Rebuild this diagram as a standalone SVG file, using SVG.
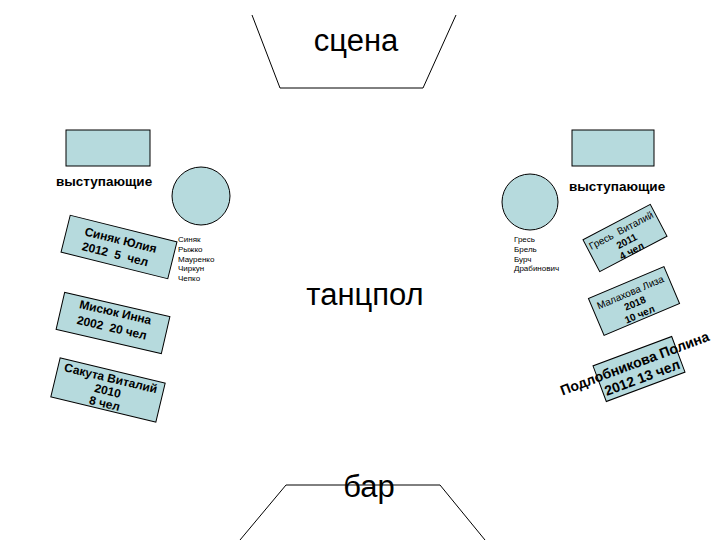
<svg xmlns="http://www.w3.org/2000/svg" width="720" height="540" viewBox="0 0 720 540">
<style>
.l{stroke:#000;stroke-width:1;fill:none}
.b{fill:#b6dadd;stroke:#000;stroke-width:1}
.big{font-family:"Liberation Sans",Arial,sans-serif;font-size:31px;text-anchor:middle}
.lbl{font-family:"Liberation Sans",Arial,sans-serif;font-size:13.5px;font-weight:bold}
.sm{font-family:"Liberation Sans",Arial,sans-serif;font-size:8px}
.t{font-family:"Liberation Sans",Arial,sans-serif;font-size:12px;font-weight:bold;text-anchor:middle}
.r{font-family:"Liberation Sans",Arial,sans-serif;font-size:10px;font-weight:bold;text-anchor:middle}
</style>
<rect width="720" height="540" fill="#fff"/>
<g id="stage"><polyline class="l" points="252,15 280,88 423,88 456,15"/><text class="big" x="356" y="51">сцена</text></g>
<g id="bar"><polyline class="l" points="240,540 286,485 440,485 485,540"/><text class="big" x="369" y="497">бар</text></g>
<g id="dance"><text class="big" x="365" y="305">танцпол</text></g>
<g id="left-perf"><rect class="b" x="66" y="130" width="84" height="36"/><text class="lbl" x="56" y="186">выступающие</text></g>
<g id="right-perf"><rect class="b" x="572" y="130" width="82" height="36"/><text class="lbl" x="569" y="191">выступающие</text></g>
<g id="left-circle"><circle class="b" cx="201" cy="196" r="29"/>
<text class="sm" x="178" y="242">Синяк</text><text class="sm" x="178" y="252">Рыжко</text><text class="sm" x="178" y="262">Мауренко</text><text class="sm" x="178" y="271">Чиркун</text><text class="sm" x="178" y="281">Чепко</text></g>
<g id="right-circle"><circle class="b" cx="530" cy="202" r="28"/>
<text class="sm" x="514" y="242">Гресь</text><text class="sm" x="514" y="252">Брель</text><text class="sm" x="514" y="262">Бурч</text><text class="sm" x="514" y="271">Драбинович</text></g>
<g id="box1" transform="translate(119,247) rotate(14)"><rect class="b" x="-55" y="-19" width="110" height="38"/><text class="t" x="0" y="-3">Синяк Юлия</text><text class="t" x="-2" y="12" xml:space="preserve">2012  5  чел</text></g>
<g id="box2" transform="translate(113,323) rotate(13)"><rect class="b" x="-54" y="-19" width="108" height="38"/><text class="t" x="0" y="-7">Мисюк Инна</text><text class="t" x="0" y="9" xml:space="preserve">2002  20 чел</text></g>
<g id="box3" transform="translate(108,390) rotate(13.5)"><rect class="b" x="-54" y="-20" width="108" height="40"/><text class="t" x="0" y="-8">Сакута Виталий</text><text class="t" x="0" y="5">2010</text><text class="t" x="0" y="18">8 чел</text></g>
<g id="boxA" transform="translate(625,238) rotate(-27.7)"><rect class="b" x="-38" y="-18" width="76" height="36"/><text class="r" x="0" y="-5" style="font-weight:normal" xml:space="preserve">Гресь  Виталий</text><text class="r" x="0" y="7">2011</text><text class="r" x="0" y="18">4 чел</text></g>
<g id="boxB" transform="translate(634,301) rotate(-23)"><rect class="b" x="-41" y="-20" width="82" height="40"/><text class="r" x="0" y="-6" style="font-weight:normal">Малахова Лиза</text><text class="r" x="0" y="6">2018</text><text class="r" x="0" y="18">10 чел</text></g>
<g id="boxC" transform="translate(639,369) rotate(-20.5)"><rect class="b" x="-42" y="-19" width="84" height="38"/><text class="t" x="-2" y="-2" style="font-size:14px">Подлобникова Полина</text><text class="t" x="0" y="14" style="font-size:14px">2012 13 чел</text></g>
</svg>
